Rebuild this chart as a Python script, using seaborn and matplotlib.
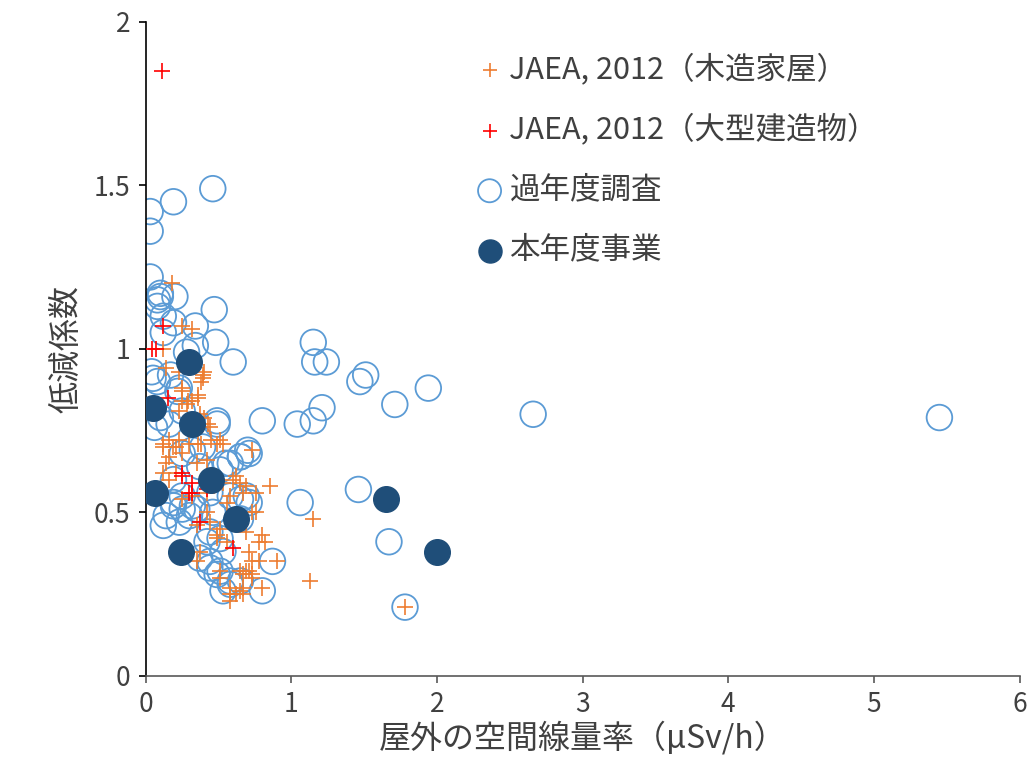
import matplotlib
matplotlib.use("Agg")
import matplotlib.pyplot as plt
import seaborn as sns
import pandas as pd

sns.set_theme(style="white")
plt.rcParams['font.family'] = ['Noto Sans CJK JP', 'DejaVu Sans']

# JAEA 2012, wooden houses
jaea_wood_x = [0.18, 0.25, 0.32, 0.12, 0.14, 0.40, 0.23, 0.39, 0.25, 0.29, 0.36, 0.23, 0.37, 0.43,
               0.12, 0.21, 0.16, 0.25, 0.38, 0.53, 0.45, 0.73, 0.62, 0.58, 0.85, 0.76, 0.69, 0.82,
               1.15, 1.13, 0.78, 0.73, 0.58, 0.65, 0.51, 0.80, 0.49, 0.35, 0.25, 0.16, 0.42, 0.32,
               1.78, 0.39, 0.38, 0.25, 0.25, 0.32, 0.36, 0.28, 0.40, 0.44, 0.51, 0.16, 0.23, 0.36,
               0.12, 0.19, 0.30, 0.49, 0.14, 0.12, 0.21, 0.35, 0.42, 0.53, 0.60, 0.65, 0.69, 0.76,
               0.56, 0.42, 0.73, 0.78, 0.80, 0.71, 0.71, 0.67, 0.73, 0.58, 0.67, 0.90, 0.51, 0.67,
               0.44, 0.51, 0.49, 0.56, 0.37, 0.35, 0.65, 0.69, 0.73, 0.67, 0.62, 0.58]
jaea_wood_y = [1.20, 1.07, 1.06, 1.00, 0.94, 0.93, 0.93, 0.91, 0.87, 0.84, 0.86, 0.81, 0.80, 0.77,
               0.70, 0.70, 0.67, 0.68, 0.71, 0.71, 0.72, 0.69, 0.61, 0.55, 0.58, 0.50, 0.44, 0.41,
               0.48, 0.29, 0.35, 0.31, 0.27, 0.26, 0.32, 0.27, 0.43, 0.46, 0.54, 0.60, 0.56, 0.55,
               0.21, 0.92, 0.90, 0.88, 0.84, 0.84, 0.85, 0.83, 0.79, 0.76, 0.72, 0.72, 0.72, 0.71,
               0.71, 0.70, 0.71, 0.71, 0.65, 0.62, 0.62, 0.65, 0.66, 0.59, 0.60, 0.59, 0.58, 0.56,
               0.53, 0.50, 0.50, 0.41, 0.43, 0.38, 0.32, 0.31, 0.30, 0.25, 0.25, 0.35, 0.30, 0.56,
               0.47, 0.45, 0.42, 0.41, 0.38, 0.35, 0.32, 0.32, 0.35, 0.27, 0.25, 0.23]

# JAEA 2012, large buildings
jaea_large_x = [0.11, 0.04, 0.07, 0.12, 0.32, 0.25, 0.60, 0.15, 0.37, 0.32, 0.25, 0.30, 0.42]
jaea_large_y = [1.85, 1.00, 1.00, 1.07, 0.56, 0.61, 0.39, 0.85, 0.47, 0.59, 0.62, 0.56, 0.57]

# Previous-year surveys
past_x = [0.46, 0.19, 0.03, 0.03, 0.03, 0.10, 0.10, 0.08, 0.20, 0.08, 0.12, 0.19, 0.34, 0.47,
          0.12, 0.48, 0.60, 1.15, 1.16, 1.24, 0.04, 0.34, 0.28, 0.08, 0.23, 0.06, 0.49, 0.80,
          1.04, 1.15, 1.21, 1.47, 1.51, 1.94, 2.66, 5.45, 1.71, 0.70, 0.65, 0.58, 0.51, 0.37,
          0.69, 1.06, 1.46, 1.67, 1.78, 0.12, 0.23, 0.35, 0.19, 0.30, 0.44, 0.42, 0.51, 0.53,
          0.44, 0.51, 0.58, 0.53, 0.80, 0.87, 0.65, 0.14, 0.25, 0.05, 0.17, 0.22, 0.10, 0.16,
          0.25, 0.49, 0.25, 0.32, 0.39, 0.55, 0.65, 0.71, 0.19, 0.25, 0.19, 0.32, 0.44, 0.58,
          0.65, 0.71, 0.46, 0.37, 0.44, 0.49, 0.58, 0.65]
past_y = [1.49, 1.45, 1.42, 1.36, 1.22, 1.17, 1.16, 1.15, 1.16, 1.13, 1.10, 1.08, 1.07, 1.12,
          1.05, 1.02, 0.96, 1.02, 0.96, 0.96, 0.93, 1.01, 0.99, 0.90, 0.88, 0.76, 0.77, 0.78,
          0.77, 0.78, 0.82, 0.90, 0.92, 0.88, 0.80, 0.79, 0.83, 0.69, 0.67, 0.65, 0.63, 0.64,
          0.55, 0.53, 0.57, 0.41, 0.21, 0.46, 0.47, 0.51, 0.53, 0.49, 0.44, 0.41, 0.42, 0.38,
          0.35, 0.32, 0.29, 0.26, 0.26, 0.35, 0.48, 0.49, 0.51, 0.91, 0.92, 0.87, 0.79, 0.77,
          0.81, 0.78, 0.68, 0.69, 0.70, 0.65, 0.67, 0.68, 0.60, 0.55, 0.52, 0.52, 0.56, 0.55,
          0.54, 0.53, 0.50, 0.36, 0.33, 0.31, 0.28, 0.29]

# Current-year project
curr_x = [0.05, 0.30, 0.32, 0.06, 0.45, 0.62, 0.24, 1.65, 2.00]
curr_y = [0.82, 0.96, 0.77, 0.56, 0.60, 0.48, 0.38, 0.54, 0.38]

labels = ["JAEA, 2012（木造家屋）", "JAEA, 2012（大型建造物）", "過年度調査", "本年度事業"]

fig = plt.figure(figsize=(10.34, 7.84), dpi=100)
ax = fig.add_axes([0.141, 0.138, 0.845, 0.834])

sns.scatterplot(x=jaea_wood_x, y=jaea_wood_y, ax=ax, marker="+", s=120, color="#ED7D31",
                linewidth=1.2, label=labels[0], zorder=3)
sns.scatterplot(x=jaea_large_x, y=jaea_large_y, ax=ax, marker="+", s=120, color="#FF0000",
                linewidth=1.2, label=labels[1], zorder=3)
sns.scatterplot(x=past_x, y=past_y, ax=ax, marker="o", s=340, facecolor="none",
                edgecolor="#5B9BD5", linewidth=1.3, label=labels[2], zorder=2)
sns.scatterplot(x=curr_x, y=curr_y, ax=ax, marker="o", s=340, color="#1F4E79",
                edgecolor="#1F4E79", linewidth=1.0, label=labels[3], zorder=4)

ax.set_xlim(0, 6)
ax.set_ylim(0, 2)
ax.set_xticks([0, 1, 2, 3, 4, 5, 6])
ax.set_xticklabels(["0", "1", "2", "3", "4", "5", "6"])
ax.set_yticks([0, 0.5, 1, 1.5, 2])
ax.set_yticklabels(["0", "0.5", "1", "1.5", "2"])
ax.tick_params(axis="both", labelsize=19, length=5, width=1.2,
               direction="out", bottom=True, left=True, labelcolor="#404040", pad=6)
ax.tick_params(axis="x", colors="#595959", labelcolor="#404040")
ax.tick_params(axis="y", colors="black", labelcolor="#404040")
for side in ["top", "right"]:
    ax.spines[side].set_visible(False)
ax.spines["left"].set_color("black")
ax.spines["bottom"].set_color("#595959")
for side in ["left", "bottom"]:
    ax.spines[side].set_linewidth(1.2)

ax.set_xlabel("屋外の空間線量率（µSv/h）", fontsize=23, color="#404040", labelpad=2)
ax.set_ylabel("低減係数", fontsize=23, color="#404040", labelpad=8)

leg = ax.legend(loc="upper left", bbox_to_anchor=(0.348, 0.99), frameon=False, fontsize=22,
                handletextpad=0.15, labelspacing=0.95, borderpad=0.3, markerscale=0.9,
                handlelength=1.0)
for t in leg.get_texts():
    t.set_color("#404040")

fig.savefig("out.png", dpi=100)
